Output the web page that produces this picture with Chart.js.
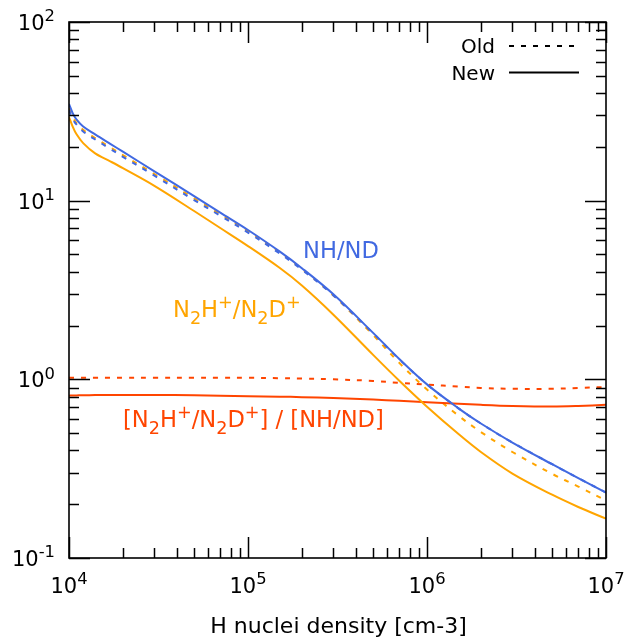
<!DOCTYPE html>
<html><head><meta charset="utf-8">
<script src="https://cdn.jsdelivr.net/npm/chart.js@4/dist/chart.umd.min.js"></script>
<style>html,body{margin:0;padding:0;background:#fff}canvas{display:block}</style>
</head><body>
<canvas id="c" width="626" height="637"></canvas>
<script>
// ---- data ----
const densities = [1e4, 1.05e4, 1.1e4, 1.2e4, 1.4e4, 1.7e4, 2e4, 3e4, 5e4, 7e4, 1e5, 1.5e5, 2e5, 3e5, 5e5, 7e5, 1e6, 1.5e6, 2e6, 3e6, 5e6, 7e6, 1e7];
const nhNew    = [34.8, 30.8, 28.5, 26.0, 23.5, 20.8, 18.8, 14.6, 10.6, 8.57, 6.85, 5.20, 4.19, 2.99, 1.82, 1.30, 0.937, 0.688, 0.566, 0.443, 0.335, 0.280, 0.2325];
const n2hNew   = [29.4, 25.9, 23.6, 21.0, 18.4, 16.6, 15.2, 12.1, 8.75, 7.03, 5.57, 4.21, 3.35, 2.30, 1.37, 0.982, 0.703, 0.494, 0.392, 0.297, 0.226, 0.193, 0.166];
const ratioNew = [0.81, 0.812, 0.813, 0.815, 0.816, 0.817, 0.818, 0.818, 0.815, 0.81, 0.805, 0.80, 0.795, 0.785, 0.77, 0.758, 0.745, 0.73, 0.72, 0.71, 0.705, 0.71, 0.72];
const nhOld    = [32.2, 28.7, 26.7, 24.4, 22.0, 19.5, 17.6, 13.8, 10.07, 8.24, 6.63, 5.07, 4.11, 2.95, 1.81, 1.295, 0.937, 0.688, 0.566, 0.443, 0.335, 0.280, 0.2325];
const n2hOld   = [32.8, 29.3, 27.2, 24.9, 22.4, 19.9, 18.0, 14.1, 10.3, 8.40, 6.76, 5.15, 4.15, 2.95, 1.77, 1.237, 0.876, 0.626, 0.507, 0.392, 0.296, 0.251, 0.210];
const ratioOld = [1.02, 1.02, 1.02, 1.02, 1.02, 1.02, 1.02, 1.02, 1.02, 1.02, 1.02, 1.015, 1.01, 1.0, 0.98, 0.955, 0.935, 0.91, 0.895, 0.885, 0.885, 0.895, 0.905];

const xTickValues = [1e4, 1e5, 1e6, 1e7];
const xTickExps   = ['4', '5', '6', '7'];
const yTickValues = [0.1, 1, 10, 100];
const yTickExps   = ['-1', '0', '1', '2'];
const xTitle = 'H nuclei density [cm-3]';
const legendLabels = ['Old', 'New'];

const BLUE = '#4169E1', ORANGE = '#FFA500', RED = '#FF4500';
const FONT = '"DejaVu Sans", sans-serif';
const DOT = [5, 7];
const LABEL_SIZE = 22.6;

function pts(arr) { return densities.map((x, i) => ({ x: x, y: arr[i] })); }

// rich text: segs = [[text, mode]] mode 0 normal, 1 superscript, -1 subscript
function richWidth(ctx, segs, size) {
  let w = 0;
  for (const [t, m] of segs) {
    ctx.font = (m ? size * 0.78 : size) + 'px ' + FONT;
    w += ctx.measureText(t).width;
  }
  return w;
}
function drawRich(ctx, segs, x, baseline, size, color, align) {
  const w = richWidth(ctx, segs, size);
  let cx = align === 'center' ? x - w / 2 : align === 'right' ? x - w : x;
  ctx.fillStyle = color;
  ctx.textBaseline = 'alphabetic';
  ctx.textAlign = 'left';
  for (const [t, m] of segs) {
    const s = m ? size * 0.78 : size;
    ctx.font = s + 'px ' + FONT;
    const dy = m === 1 ? -size * 0.42 : m === -1 ? size * 0.3 : 0;
    ctx.fillText(t, cx, baseline + dy);
    cx += ctx.measureText(t).width;
  }
}

const decor = {
  id: 'decor',
  beforeDraw(chart) {
    const ctx = chart.ctx;
    ctx.save();
    ctx.fillStyle = '#fff';
    ctx.fillRect(0, 0, chart.width, chart.height);
    ctx.restore();
  },
  afterDraw(chart) {
    const ctx = chart.ctx, a = chart.chartArea;
    const xs = chart.scales.x, ys = chart.scales.y;
    ctx.save();
    ctx.strokeStyle = '#000';
    ctx.lineWidth = 1.5;
    const MAJ = 21, MIN = 10;
    for (let d = -1; d <= 2; d++) {
      for (let k = 1; k <= 9; k++) {
        const v = k * Math.pow(10, d);
        if (v > 100.0001) continue;
        const py = Math.round(ys.getPixelForValue(v)) + 0.5;
        const L = k === 1 ? MAJ : MIN;
        ctx.beginPath();
        ctx.moveTo(a.left, py); ctx.lineTo(a.left + L, py);
        ctx.moveTo(a.right, py); ctx.lineTo(a.right - L, py);
        ctx.stroke();
      }
    }
    for (let d = 4; d <= 7; d++) {
      for (let k = 1; k <= 9; k++) {
        const v = k * Math.pow(10, d);
        if (v > 1.0001e7) continue;
        const px = Math.round(xs.getPixelForValue(v)) + 0.5;
        const L = k === 1 ? MAJ : MIN;
        ctx.beginPath();
        ctx.moveTo(px, a.bottom); ctx.lineTo(px, a.bottom - L);
        ctx.moveTo(px, a.top); ctx.lineTo(px, a.top + L);
        ctx.stroke();
      }
    }
    ctx.lineWidth = 1.6;
    ctx.strokeRect(a.left, a.top, a.right - a.left, a.bottom - a.top);

    yTickValues.forEach((v, i) => {
      const py = ys.getPixelForValue(v);
      drawRich(ctx, [['10', 0], [yTickExps[i], 1]], 55, py + 8, 21, '#000', 'right');
    });
    xTickValues.forEach((v, i) => {
      const px = xs.getPixelForValue(v);
      drawRich(ctx, [['10', 0], [xTickExps[i], 1]], px, a.bottom + 35, 21, '#000', 'center');
    });
    drawRich(ctx, [[xTitle, 0]], (a.left + a.right) / 2 + 1, a.bottom + 75, 22, '#000', 'center');

    drawRich(ctx, [['NH/ND', 0]], 303, 258, LABEL_SIZE, BLUE, 'left');
    drawRich(ctx, [['N', 0], ['2', -1], ['H', 0], ['+', 1], ['/N', 0], ['2', -1], ['D', 0], ['+', 1]], 173, 317, LABEL_SIZE, ORANGE, 'left');
    drawRich(ctx, [['[N', 0], ['2', -1], ['H', 0], ['+', 1], ['/N', 0], ['2', -1], ['D', 0], ['+', 1], ['] / [NH/ND]', 0]], 123, 427, LABEL_SIZE, RED, 'left');

    drawRich(ctx, [[legendLabels[0], 0]], 495, 53, 20, '#000', 'right');
    drawRich(ctx, [[legendLabels[1], 0]], 495, 80, 20, '#000', 'right');
    ctx.lineWidth = 2;
    ctx.strokeStyle = '#000';
    ctx.setLineDash(DOT);
    ctx.beginPath(); ctx.moveTo(509, 46); ctx.lineTo(580, 46); ctx.stroke();
    ctx.setLineDash([]);
    ctx.beginPath(); ctx.moveTo(509, 72.5); ctx.lineTo(579, 72.5); ctx.stroke();
    ctx.restore();
  }
};

new Chart(document.getElementById('c'), {
  type: 'line',
  data: {
    datasets: [
      { label: 'NH/ND new', data: pts(nhNew), borderColor: BLUE },
      { label: 'N2H+/N2D+ new', data: pts(n2hNew), borderColor: ORANGE },
      { label: 'ratio new', data: pts(ratioNew), borderColor: RED },
      { label: 'NH/ND old', data: pts(nhOld), borderColor: BLUE, borderDash: DOT },
      { label: 'N2H+/N2D+ old', data: pts(n2hOld), borderColor: ORANGE, borderDash: DOT },
      { label: 'ratio old', data: pts(ratioOld), borderColor: RED, borderDash: DOT }
    ]
  },
  options: {
    responsive: false,
    animation: false,
    devicePixelRatio: 1,
    layout: { padding: { top: 22, right: 20, left: 0, bottom: 0 } },
    plugins: { legend: { display: false }, tooltip: { enabled: false } },
    elements: {
      point: { radius: 0, hoverRadius: 0 },
      line: { borderWidth: 2, tension: 0.35, fill: false }
    },
    scales: {
      x: { type: 'logarithmic', min: 1e4, max: 1e7,
           ticks: { display: false }, grid: { display: false }, border: { display: false },
           afterFit(s) { s.height = 79; } },
      y: { type: 'logarithmic', min: 0.1, max: 100,
           ticks: { display: false }, grid: { display: false }, border: { display: false },
           afterFit(s) { s.width = 69; } }
    }
  },
  plugins: [decor]
});
</script>
</body></html>
